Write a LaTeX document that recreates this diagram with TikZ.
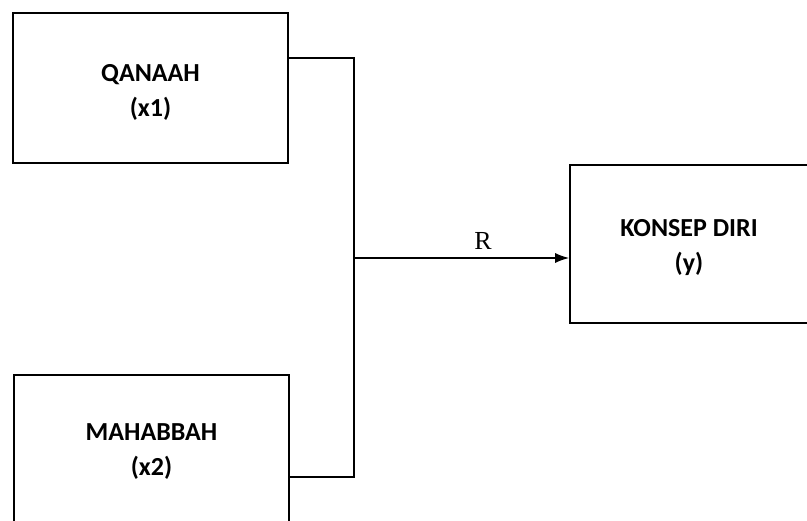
\documentclass[tikz,border=0pt]{standalone}
\usepackage{fontspec}
\setmainfont{Carlito}
\newfontfamily\serifR{Liberation Serif}
\usetikzlibrary{arrows.meta}
\begin{document}
\begin{tikzpicture}[x=1pt,y=-1pt,
  varbox/.style={draw,line width=1.6pt,inner sep=0pt,align=center,
    font=\fontsize{26}{35}\selectfont\bfseries},
  link/.style={line width=1.6pt},
  arr/.style={line width=1.6pt,-{Latex[length=14pt,width=10pt]}}]
\useasboundingbox (0,0) rectangle (807,521);
\clip (0,0) rectangle (807,521);
\fill[white] (0,0) rectangle (807,521);
\node[varbox,minimum width=275pt,minimum height=150pt] (q) at (150.5,88) {\parbox{200pt}{\centering\vspace*{8pt}QANAAH\\(x1)}};
\node[varbox,minimum width=275pt,minimum height=154pt] (m) at (151.5,452) {MAHABBAH\\(x2)};
\node[varbox,minimum width=238pt,minimum height=158pt] (k) at (689,244) {\parbox{200pt}{\centering\vspace*{7pt}KONSEP DIRI\\(y)}};
\coordinate (top) at (354,58);
\coordinate (bot) at (354,477);
\coordinate (mid) at (354,258);
\draw[link] (q.east |- top) -- (top) -- (bot) -- (m.east |- bot);
\draw[arr] (mid) -- (k.west |- mid) node[pos=0.6,above=4pt,font=\serifR\fontsize{26}{28}\selectfont] (r) {R};
\end{tikzpicture}
\end{document}
